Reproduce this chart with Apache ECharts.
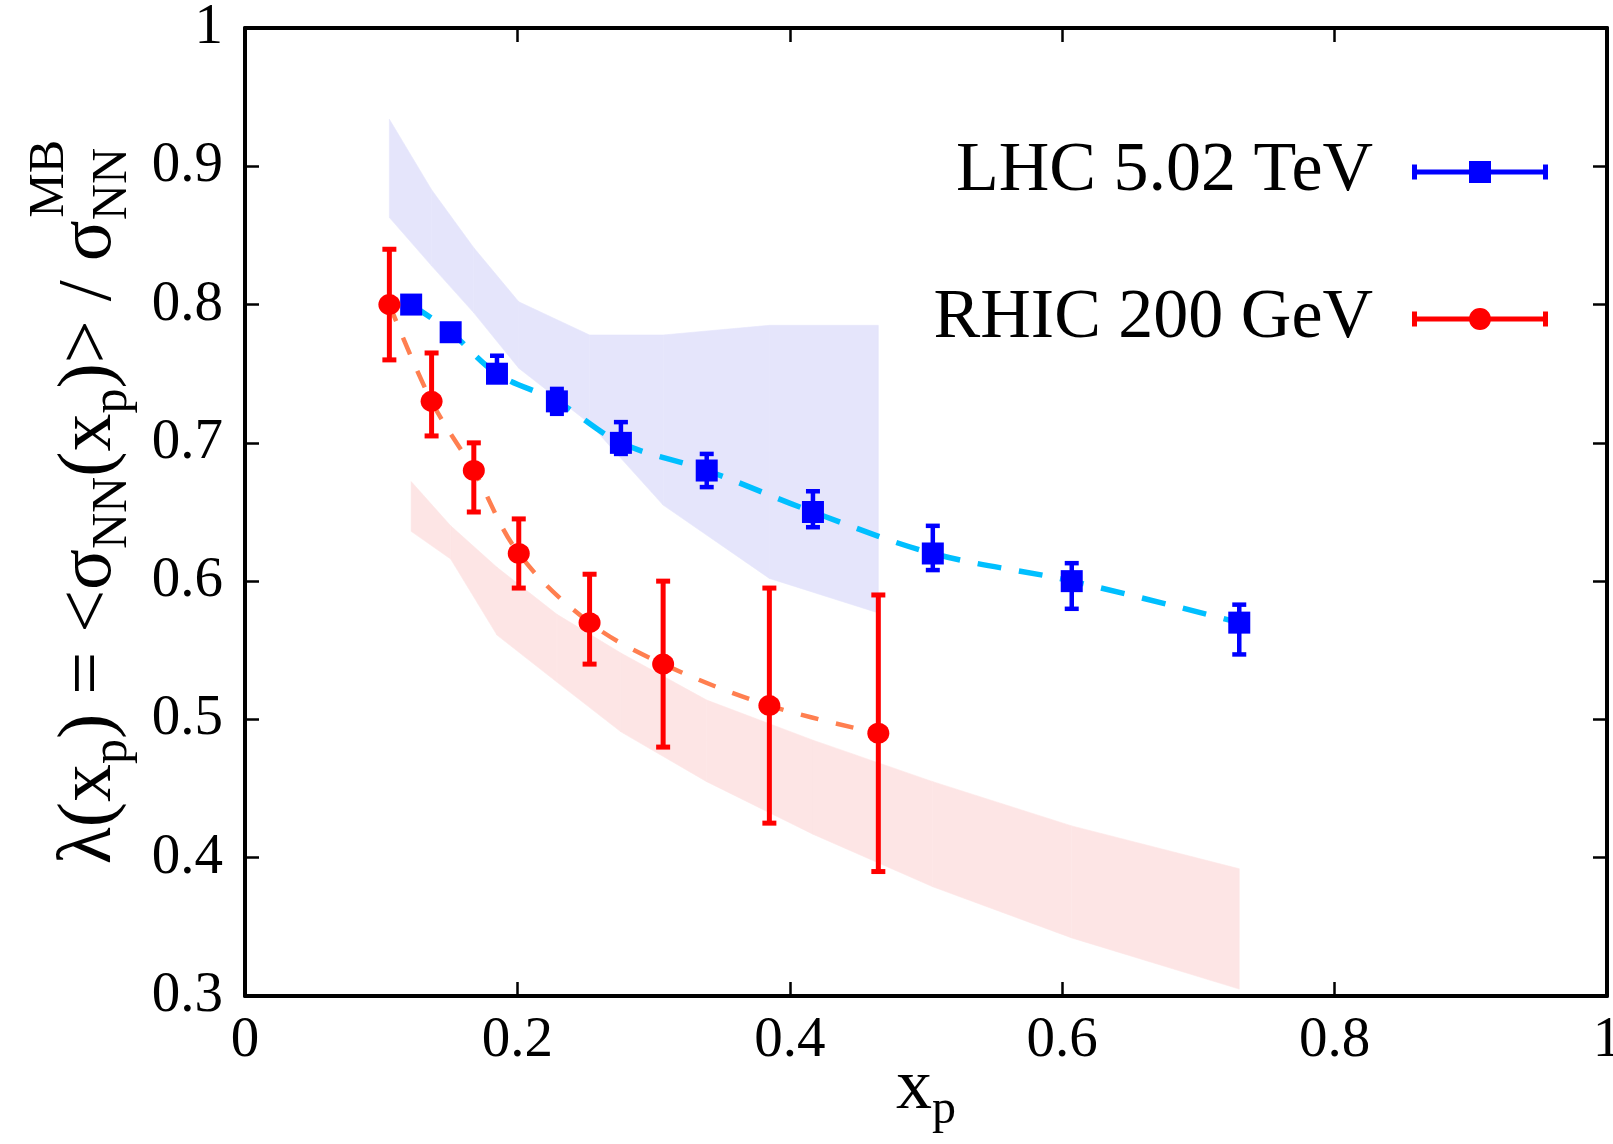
<!DOCTYPE html>
<html>
<head>
<meta charset="utf-8">
<script src="https://cdn.jsdelivr.net/npm/echarts@6/dist/echarts.min.js"></script>
<style>
  html, body { margin: 0; padding: 0; background: #fff; }
  #chart { width: 1613px; height: 1144px; }
</style>
</head>
<body>
<div id="chart"></div>
<script>
// LHC 5.02 TeV points with asymmetric errors
const lhcX  = [0.122, 0.151, 0.185, 0.229, 0.276, 0.339, 0.417, 0.505, 0.607, 0.730];
const lhcY  = [0.800, 0.780, 0.750, 0.730, 0.700, 0.680, 0.650, 0.620, 0.600, 0.570];
const lhcHi = [0.803, 0.782, 0.763, 0.739, 0.715, 0.692, 0.665, 0.640, 0.613, 0.583];
const lhcLo = [0.797, 0.778, 0.745, 0.721, 0.692, 0.668, 0.639, 0.608, 0.580, 0.547];

// RHIC 200 GeV points with asymmetric errors
const rhicX  = [0.106, 0.137, 0.168, 0.201, 0.253, 0.307, 0.385, 0.465];
const rhicY  = [0.800, 0.730, 0.680, 0.620, 0.570, 0.540, 0.510, 0.490];
const rhicHi = [0.840, 0.765, 0.700, 0.645, 0.605, 0.600, 0.595, 0.590];
const rhicLo = [0.760, 0.705, 0.650, 0.595, 0.540, 0.480, 0.425, 0.390];

// Blue band, sampled at the RHIC x values
const blueBandHi = [0.934, 0.883, 0.841, 0.802, 0.778, 0.778, 0.785, 0.785];
const blueBandLo = [0.863, 0.828, 0.794, 0.754, 0.714, 0.655, 0.602, 0.577];

// Red band, sampled at the LHC x values
const redBandHi = [0.672, 0.640, 0.610, 0.576, 0.548, 0.514, 0.485, 0.455, 0.423, 0.392];
const redBandLo = [0.636, 0.616, 0.561, 0.527, 0.491, 0.455, 0.417, 0.379, 0.342, 0.305];

const LHC_NAME = 'LHC 5.02 TeV';
const RHIC_NAME = 'RHIC 200 GeV';

const SERIF = "'Liberation Serif', 'Times New Roman', serif";

function bandSeries(xs, lo, hi, color) {
  return {
    type: 'custom',
    silent: true,
    z: 1,
    data: xs.map((x, i) => [x, lo[i], hi[i]]),
    renderItem(params, api) {
      const i = params.dataIndexInside;
      if (i >= params.dataInsideLength - 1) return null;
      const x0 = api.value(0, i), x1 = api.value(0, i + 1);
      const pts = [
        api.coord([x0, api.value(1, i)]),
        api.coord([x0, api.value(2, i)]),
        api.coord([x1, api.value(2, i + 1)]),
        api.coord([x1, api.value(1, i + 1)])
      ];
      return {
        type: 'polygon',
        shape: { points: pts },
        style: { fill: color, stroke: color, lineWidth: 0.6 }
      };
    }
  };
}

function errorSeries(xs, lo, hi, color, lw, cap) {
  return {
    type: 'custom',
    silent: true,
    z: 4,
    data: xs.map((x, i) => [x, lo[i], hi[i]]),
    renderItem(params, api) {
      const x = api.value(0);
      const pHi = api.coord([x, api.value(2)]);
      const pLo = api.coord([x, api.value(1)]);
      const st = { stroke: color, lineWidth: lw };
      return {
        type: 'group',
        children: [
          { type: 'line', shape: { x1: pHi[0], y1: pHi[1], x2: pLo[0], y2: pLo[1] }, style: st },
          { type: 'line', shape: { x1: pHi[0] - cap, y1: pHi[1], x2: pHi[0] + cap, y2: pHi[1] }, style: st },
          { type: 'line', shape: { x1: pLo[0] - cap, y1: pLo[1], x2: pLo[0] + cap, y2: pLo[1] }, style: st }
        ]
      };
    }
  };
}

// Legend keys: horizontal error bar with end caps and the marker in the middle
const lhcIcon = 'path://M0 3.5h5v15h-5Z M131 3.5h5v15h-5Z M5 8.5h126v5h-126Z M57 0h22v22h-22Z';
const rhicIcon = 'path://M0 3.5h5v15h-5Z M131 3.5h5v15h-5Z M5 8.5h53v5h-53Z M78 8.5h53v5h-53Z ' +
  'M57 11C57 4.9 61.9 0 68 0C74.1 0 79 4.9 79 11C79 17.1 74.1 22 68 22C61.9 22 57 17.1 57 11Z';

function boxAxis(pos, isX, showLabels) {
  return {
    type: 'value',
    position: pos,
    min: isX ? 0 : 0.3,
    max: 1,
    interval: isX ? 0.2 : 0.1,
    axisLine: { show: true, onZero: false, lineStyle: { color: '#000', width: 4 } },
    axisTick: { show: true, inside: true, length: 14, lineStyle: { color: '#000', width: 2.5 } },
    splitLine: { show: false },
    axisLabel: {
      show: showLabels,
      fontFamily: SERIF,
      fontSize: 57,
      color: '#000',
      margin: isX ? 17 : 22,
      hideOverlap: false,
      formatter: v => String(+v.toFixed(1))
    }
  };
}

const chart = echarts.init(document.getElementById('chart'), null, { renderer: 'canvas' });

const xBottom = boxAxis('bottom', true, true);
xBottom.name = '{m|x}{s|p}';
xBottom.nameLocation = 'middle';
xBottom.nameGap = 48;
xBottom.nameMoveOverlap = false;
xBottom.nameTextStyle = {
  rich: {
    m: { fontFamily: SERIF, fontSize: 72, lineHeight: 90, verticalAlign: 'middle', color: '#000' },
    s: { fontFamily: SERIF, fontSize: 48, lineHeight: 38, verticalAlign: 'bottom', color: '#000' }
  }
};

const option = {
  backgroundColor: '#fff',
  animation: false,
  grid: { left: 245, right: 6, top: 28, bottom: 148, containLabel: false, outerBoundsMode: 'none' },
  xAxis: [xBottom, boxAxis('top', true, false)],
  yAxis: [boxAxis('left', false, true), boxAxis('right', false, false)],
  legend: {
    orient: 'vertical',
    right: 60,
    top: 132,
    align: 'right',
    itemWidth: 136,
    itemHeight: 22,
    itemGap: 77,
    selectedMode: false,
    textStyle: { fontFamily: SERIF, fontSize: 70, color: '#000', lineHeight: 70, padding: [0, 34, 0, 0] },
    data: [
      { name: LHC_NAME, icon: lhcIcon },
      { name: RHIC_NAME, icon: rhicIcon }
    ]
  },
  graphic: [
    {
      type: 'group',
      x: 90,
      y: 148,
      rotation: Math.PI / 2,
      children: [
        {
          type: 'text',
          x: 0, y: 0,
          style: {
            text: '{m|λ(x}{s|p}{m|) = <σ}{s|NN}{m|(x}{s|p}{m|)> / σ}{s|NN}',
            align: 'right',
            verticalAlign: 'middle',
            rich: {
              m: { fontFamily: SERIF, fontSize: 76, lineHeight: 96, verticalAlign: 'middle', fill: '#000' },
              s: { fontFamily: SERIF, fontSize: 50, lineHeight: 40, verticalAlign: 'bottom', fill: '#000' }
            }
          }
        },
        {
          type: 'text',
          x: 8, y: -40,
          style: {
            text: 'MB',
            align: 'right',
            verticalAlign: 'middle',
            fontFamily: SERIF,
            fontSize: 50,
            fill: '#000'
          }
        }
      ]
    }
  ],
  series: [
    bandSeries(rhicX, blueBandLo, blueBandHi, 'rgb(229,229,251)'),
    bandSeries(lhcX, redBandLo, redBandHi, 'rgb(253,229,229)'),
    {
      type: 'line',
      z: 3,
      silent: true,
      smooth: 0.35,
      symbol: 'none',
      data: lhcX.map((x, i) => [x, lhcY[i]]),
      lineStyle: { color: '#00BFFF', width: 5.5, type: [24, 18] }
    },
    {
      type: 'line',
      z: 3,
      silent: true,
      smooth: 0.35,
      symbol: 'none',
      data: rhicX.map((x, i) => [x, rhicY[i]]),
      lineStyle: { color: '#FF7F50', width: 4.5, type: [18, 18] }
    },
    errorSeries(lhcX, lhcLo, lhcHi, '#0000FF', 4.5, 7),
    errorSeries(rhicX, rhicLo, rhicHi, '#FF0000', 5, 7),
    {
      name: LHC_NAME,
      type: 'scatter',
      z: 5,
      symbol: 'rect',
      symbolSize: 22,
      itemStyle: { color: '#0000FF', opacity: 1 },
      data: lhcX.map((x, i) => [x, lhcY[i]])
    },
    {
      name: RHIC_NAME,
      type: 'scatter',
      z: 5,
      symbol: 'circle',
      symbolSize: [22, 21],
      itemStyle: { color: '#FF0000', opacity: 1 },
      data: rhicX.map((x, i) => [x, rhicY[i]])
    }
  ]
};

chart.setOption(option);
</script>
</body>
</html>
